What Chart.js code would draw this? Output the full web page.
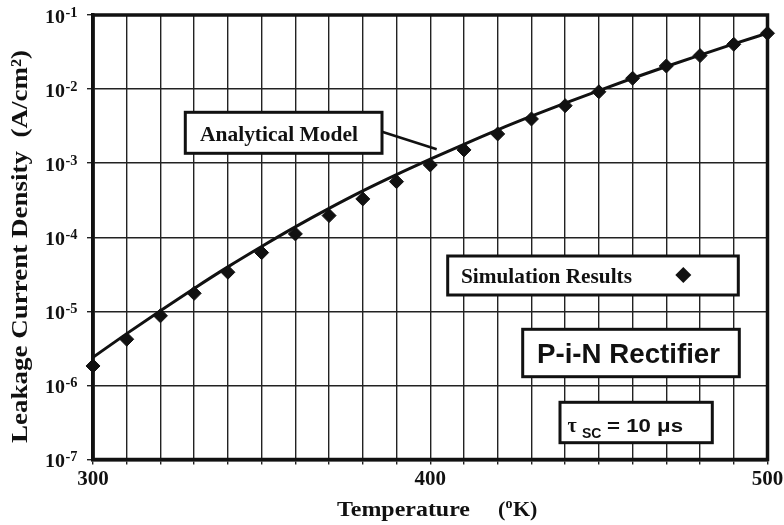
<!DOCTYPE html>
<html>
<head>
<meta charset="utf-8">
<script src="https://cdn.jsdelivr.net/npm/chart.js@4"></script>
<style>
  body { margin: 0; background: #fff; }
  #wrap { width: 784px; height: 525px; }
</style>
</head>
<body>
<div id="wrap"><canvas id="pinChart"></canvas></div>
<script>
// Temperature (K) and leakage current density (A/cm2)
const temperatures = [300, 310, 320, 330, 340, 350, 360, 370, 380, 390, 400,
                      410, 420, 430, 440, 450, 460, 470, 480, 490, 500];
const simulationResults = [1.83e-6, 4.2e-6, 8.7e-6, 1.75e-5, 3.37e-5, 6.2e-5, 1.11e-4,
                           1.96e-4, 3.29e-4, 5.63e-4, 9.46e-4, 1.51e-3, 2.48e-3, 3.95e-3,
                           5.97e-3, 9.2e-3, 1.4e-2, 2.05e-2, 2.83e-2, 4.02e-2, 5.67e-2];
const analyticalModel = [2.4e-6, 5.0e-6, 1.02e-5, 2.04e-5, 3.98e-5, 7.5e-5, 1.38e-4,
                         2.45e-4, 4.22e-4, 7.0e-4, 1.13e-3, 1.8e-3, 2.82e-3, 4.31e-3,
                         6.46e-3, 9.55e-3, 1.4e-2, 2.02e-2, 2.88e-2, 4.07e-2, 5.69e-2];
const yTickValues = [1e-7, 1e-6, 1e-5, 1e-4, 1e-3, 1e-2, 1e-1];
const xLabelValues = [300, 400, 500];

const SERIF = '"Liberation Serif", "Times New Roman", serif';
const SANS = '"Liberation Sans", Arial, sans-serif';

// draw text stretched horizontally to a given width
function fitText(ctx, text, x, y, width, font) {
    ctx.font = font;
    const w = ctx.measureText(text).width;
    ctx.save();
    ctx.translate(x, y);
    ctx.scale(width / w, 1);
    ctx.textAlign = 'left';
    ctx.fillText(text, 0, 0);
    ctx.restore();
}

function box(ctx, x1, y1, x2, y2) {
    ctx.fillStyle = '#fff';
    ctx.fillRect(x1, y1, x2 - x1, y2 - y1);
    ctx.lineWidth = 3;
    ctx.strokeStyle = '#111';
    ctx.strokeRect(x1, y1, x2 - x1, y2 - y1);
    ctx.fillStyle = '#111';
}

const decorations = {
    id: 'decorations',
    afterDraw(chart) {
        const ctx = chart.ctx;
        const a = chart.chartArea;
        const xs = chart.scales.x, ys = chart.scales.y;
        ctx.save();

        // frame
        ctx.strokeStyle = '#111';
        ctx.lineWidth = 3.5;
        ctx.strokeRect(a.left, a.top, a.right - a.left, a.bottom - a.top);

        ctx.fillStyle = '#111';
        ctx.textBaseline = 'alphabetic';

        // y tick labels 10^n
        yTickValues.forEach(v => {
            const py = ys.getPixelForValue(v);
            const exp = Math.round(Math.log10(v));
            fitText(ctx, '10', 45, py + 7.5, 20, 'bold 18px ' + SERIF);
            fitText(ctx, '-' + Math.abs(exp), 65.5, py + 1.5, 12, 'bold 14px ' + SERIF);
        });

        // x tick labels
        ctx.font = 'bold 21px ' + SERIF;
        ctx.textAlign = 'center';
        xLabelValues.forEach(v => {
            ctx.fillText(String(v), xs.getPixelForValue(v), 485);
        });

        // axis titles
        fitText(ctx, 'Temperature', 337, 516, 133, 'bold 22px ' + SERIF);
        ctx.textAlign = 'left';
        ctx.font = 'bold 22px ' + SERIF;
        ctx.fillText('(', 498, 516);
        ctx.font = 'bold 14px ' + SERIF;
        ctx.fillText('o', 505.5, 508);
        ctx.font = 'bold 22px ' + SERIF;
        ctx.fillText('K)', 513, 516);

        ctx.save();
        ctx.translate(27, 443);
        ctx.rotate(-Math.PI / 2);
        fitText(ctx, 'Leakage Current Density  (A/cm\u00B2)', 0, 0, 393, 'bold 23px ' + SERIF);
        ctx.restore();

        // Analytical Model label + leader
        ctx.lineWidth = 2.5;
        ctx.beginPath();
        ctx.moveTo(382, 131.7);
        ctx.lineTo(436.7, 149.3);
        ctx.stroke();
        box(ctx, 185.3, 112.3, 382, 153.3);
        fitText(ctx, 'Analytical Model', 200, 141, 158, 'bold 21px ' + SERIF);

        // Simulation Results legend
        box(ctx, 447.7, 256, 738.3, 295);
        fitText(ctx, 'Simulation Results', 461, 283, 171, 'bold 21px ' + SERIF);
        ctx.beginPath();
        ctx.moveTo(683.3 - 8, 275);
        ctx.lineTo(683.3, 275 - 8);
        ctx.lineTo(683.3 + 8, 275);
        ctx.lineTo(683.3, 275 + 8);
        ctx.closePath();
        ctx.fill();

        // P-i-N Rectifier
        box(ctx, 522.7, 329.3, 739.3, 376.7);
        fitText(ctx, 'P-i-N Rectifier', 537, 363, 183, 'bold 28px ' + SANS);

        // tau_SC = 10 us
        box(ctx, 560, 402.3, 712.3, 442.7);
        ctx.textAlign = 'left';
        ctx.font = 'bold 20px ' + SERIF;
        ctx.fillText('\u03C4', 567.5, 431.5);
        ctx.font = 'bold 14px ' + SANS;
        ctx.fillText('SC', 582, 437.5);
        fitText(ctx, '= 10 \u03BCs', 607, 431.5, 76, 'bold 19px ' + SANS);

        ctx.restore();
    }
};

const ctx = document.getElementById('pinChart').getContext('2d');
const pinChart = new Chart(ctx, {
    type: 'line',
    data: {
        labels: temperatures,
        datasets: [
            {
                label: 'Analytical Model',
                data: temperatures.map((t, i) => ({ x: t, y: analyticalModel[i] })),
                borderColor: '#111',
                borderWidth: 3,
                pointRadius: 0,
                fill: false,
                cubicInterpolationMode: 'monotone',
                order: 2,
            },
            {
                label: 'Simulation Results',
                data: temperatures.map((t, i) => ({ x: t, y: simulationResults[i] })),
                showLine: false,
                pointStyle: 'rectRot',
                pointRadius: 7,
                pointBackgroundColor: '#111',
                pointBorderColor: '#111',
                pointBorderWidth: 1,
                clip: false,
                order: 1,
            },
        ],
    },
    options: {
        responsive: true,
        maintainAspectRatio: false,
        devicePixelRatio: 1,
        animation: false,
        layout: { padding: { top: 15, right: 16.5, left: 0, bottom: 0 } },
        plugins: {
            legend: { display: false },
            tooltip: { enabled: false },
        },
        scales: {
            x: {
                type: 'linear',
                min: 300,
                max: 500,
                ticks: { stepSize: 10, display: false },
                grid: { color: '#222', lineWidth: 1.4, tickLength: 5 },
                border: { display: true, color: '#111', width: 3.5 },
                afterFit: s => { s.height = 65.5; },
            },
            y: {
                type: 'logarithmic',
                min: 1e-7,
                max: 1e-1,
                afterBuildTicks: s => { s.ticks = yTickValues.map(v => ({ value: v })); },
                ticks: { display: false },
                grid: { color: '#222', lineWidth: 1.4, tickLength: 6 },
                border: { display: true, color: '#111', width: 3.5 },
                afterFit: s => { s.width = 93; },
            },
        },
    },
    plugins: [decorations],
});
</script>
</body>
</html>
